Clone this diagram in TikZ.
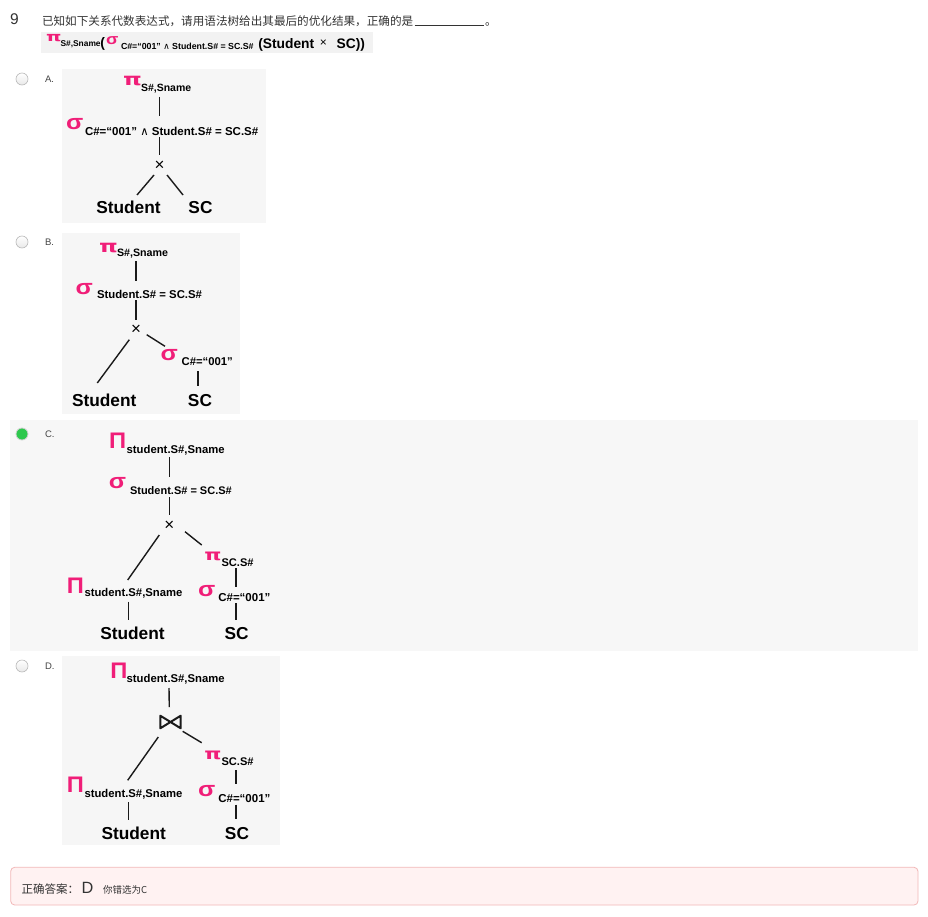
\documentclass[tikz,border=0pt]{standalone}
\usepackage{graphicx}
\usepackage{fontspec}
\setmainfont{Liberation Sans}
\newfontfamily\cjk{Noto Sans CJK SC}
\newfontfamily\dvs{DejaVu Sans}
\usetikzlibrary{calc}
\definecolor{pk}{HTML}{F01E78}
\definecolor{ibg}{HTML}{F6F6F6}
\definecolor{rowc}{HTML}{F7F7F7}
\definecolor{fbg}{HTML}{F2F2F2}
\definecolor{txt}{HTML}{333333}
\definecolor{lc}{HTML}{1A1A1A}
\definecolor{optc}{HTML}{444444}
\definecolor{bdr}{HTML}{F2B8B8}
\definecolor{pbg}{HTML}{FFF2F2}
\definecolor{grn}{HTML}{2DC84D}
\newcommand\myfs[1]{\fontsize{#1}{#1}\selectfont}
\newcommand\gp{\scalebox{1.4}[1]{\dvs\bfseries π}}
\newcommand\gs{\scalebox{1.2}[1]{σ}}
\newcommand\gP{\scalebox{1.05}[1]{Π}}
\tikzset{
 lbl/.style={inner sep=0, outer sep=0, anchor=base west},
 grk/.style={lbl, text=pk, font=\bfseries\myfs{15.5}},
 grs/.style={lbl, text=pk, font=\bfseries\myfs{21}},
 gPi/.style={lbl, text=pk, font=\bfseries\myfs{22.5}},
 sub/.style={lbl, text=black, font=\bfseries\myfs{#1}},
 leaf/.style={inner sep=0, outer sep=0, anchor=base, font=\bfseries\myfs{17.3}},
 conn/.style={line width=1.4pt, draw=lc},
 xmark/.style={inner sep=0, outer sep=0, font=\myfs{17}},
 radio/.style={circle, minimum size=12pt, inner sep=0, draw=gray!55, line width=0.6pt, top color=white, bottom color=gray!18},
 opt/.style={lbl, text=optc, font=\myfs{9.5}},
}
\begin{document}
\begin{tikzpicture}[x=1pt,y=-1pt]
\useasboundingbox (0,0) rectangle (928,917);
\fill[white] (0,0) rectangle (928,917);
% ---------- header ----------
\node[lbl, font=\myfs{15.5}, text=txt] (num) at (10,25) {9};
\node[lbl, font=\cjk\myfs{11.6}, text=txt] (q) at (42,25.5) {已知如下关系代数表达式，请用语法树给出其最后的优化结果，正确的是};
\draw[line width=0.7pt, txt] ($(q.base east)+(1.5,0)$) -- ($(q.base east)+(71,0)$);
\node[lbl, font=\cjk\myfs{11.6}, text=txt] (qdot) at (485,25.5) {。};
\fill[fbg] (41,32) rectangle (373,53);
\node[lbl, text=pk, font=\bfseries\myfs{13}] (fpi) at (46,42) {\scalebox{1.5}[1]{\dvs\bfseries π}};
\node[sub=8.4] (fsp) at (60.5,47) {S\#,Sname};
\node[lbl, font=\bfseries\myfs{13.8}] (fpar) at (100.3,48) {(};
\node[lbl, text=pk, font=\bfseries\myfs{15}] (fsg) at (106,44.2) {\gs};
\node[sub=8.8] (fss) at (121,50) {C\#=“001” {\dvs\mdseries ∧} Student.S\# = SC.S\#};
\node[lbl, font=\bfseries\myfs{13.8}] (fst) at (258.3,48.3) {(Student};
\node[inner sep=0, font=\myfs{12}] (fx) at (323.3,43.3) {×};
\node[lbl, font=\bfseries\myfs{13.8}] (fsc) at (336.7,48.3) {SC))};
% ---------- radios ----------
\node[radio] (rA) at (22,79) {};
\node[opt] (oA) at (45,82.5) {A.};
\node[radio] (rB) at (22,242) {};
\node[opt] (oB) at (45,245.5) {B.};
\fill[rowc] (10,420) rectangle (918,651);
\node[circle, minimum size=12pt, inner sep=0, draw=gray!35, line width=0.8pt, fill=grn] (rC) at (22,434) {};
\node[opt] (oC) at (45,437.5) {C.};
\node[radio] (rD) at (22,666) {};
\node[opt] (oD) at (45,669.5) {D.};
% ---------- option A ----------
\fill[ibg] (62,69) rectangle (266,223);
\node[grk, font=\bfseries\myfs{17}] (piA) at (123,86) {\gp};
\node[sub=10.5] (spA) at (141,91.3) {S\#,Sname};
\node[grs] (sgA) at (66,129.3) {\gs};
\node[sub=11.5] (ssA) at (85,136) {C\#=“001” {\dvs\mdseries ∧} Student.S\# = SC.S\#};
\node[xmark] (xA) at (159.5,166) {×};
\node[leaf] (stA) at (128.5,213.7) {Student};
\node[leaf] (scA) at (200.5,213.7) {SC};
\draw[conn] ($(spA.base -| xA)+(0,5.5)$) -- ($(sgA.base -| xA)+(0,-13.5)$);
\draw[conn] ($(ssA.base -| xA)+(0,1.5)$) -- ($(xA.center)+(0,-11)$);
\draw[conn] ($(xA.center)+(-5.5,9)$) -- ($(stA.base)+(8.5,-18.7)$);
\draw[conn] ($(xA.center)+(7.5,9)$) -- ($(scA.base)+(-17.5,-18.7)$);
% ---------- option B ----------
\fill[ibg] (62,233) rectangle (240,414);
\node[grk, font=\bfseries\myfs{17}] (piB) at (99,252.5) {\gp};
\node[sub=10.7] (spB) at (117,257) {S\#,Sname};
\node[grs] (sgB) at (75.7,294.3) {\gs};
\node[sub=11.35] (ssB) at (97,298.7) {Student.S\# = SC.S\#};
\node[xmark] (xB) at (136,329.7) {×};
\node[grs] (sgB2) at (160.7,360.5) {\gs};
\node[sub=11.3] (ssB2) at (181.7,365.3) {C\#=“001”};
\node[leaf] (stB) at (104.2,406.5) {Student};
\node[leaf] (scB) at (200,406.5) {SC};
\draw[conn] ($(spB.base -| xB)+(0,4.3)$) -- ($(sgB.base -| xB)+(0,-13.3)$);
\draw[conn] ($(ssB.base -| xB)+(0,1.3)$) -- ($(xB.center)+(0,-9.7)$);
\draw[conn] ($(xB.center)+(-6.7,10)$) -- ($(stB.base)+(-6.9,-23.5)$);
\draw[conn] ($(xB.center)+(10.7,5)$) -- ($(sgB2.base west)+(4.3,-14.2)$);
\draw[conn] ($(ssB2.base west)+(16.3,6)$) -- ($(scB.base)+(-2,-20.2)$);
% ---------- option C ----------
\node[gPi] (PiC) at (109,448.3) {\gP};
\node[sub=11.3] (spC) at (126.7,453.3) {student.S\#,Sname};
\node[grs] (sgC) at (108.8,488.8) {\gs};
\node[sub=11] (ssC) at (130,494.5) {Student.S\# = SC.S\#};
\node[xmark] (xC) at (169.3,526) {×};
\node[grk] (piC2) at (204.3,560) {\gp};
\node[sub=11.1] (spC2) at (221.5,566) {SC.S\#};
\node[gPi] (PiC3) at (66.8,593.3) {\gP};
\node[sub=11.3] (spC3) at (84.5,596.5) {student.S\#,Sname};
\node[grs] (sgC2) at (198,596.5) {\gs};
\node[sub=11.5] (ssC2) at (218.3,601.7) {C\#=“001”};
\node[leaf] (stC) at (132.5,639.3) {Student};
\node[leaf] (scC) at (236.7,639.3) {SC};
\draw[conn] ($(spC.base -| xC)+(0,4)$) -- ($(sgC.base -| xC)+(0,-11.5)$);
\draw[conn] ($(ssC.base -| xC)+(0,2.8)$) -- ($(xC.center)+(0,-11)$);
\draw[conn] ($(xC.center)+(-10,9)$) -- ($(spC3.base west)+(43.2,-16.5)$);
\draw[conn] ($(xC.center)+(15.7,5.7)$) -- ($(piC2.base west)+(-2.6,-15)$);
\draw[conn] ($(spC2.base west)+(14.5,2.3)$) -- ($(ssC2.base west)+(17.7,-15)$);
\draw[conn] ($(spC3.base west)+(43.8,5.2)$) -- ($(stC.base)+(-4.2,-19.3)$);
\draw[conn] ($(ssC2.base west)+(17.7,1.6)$) -- ($(scC.base)+(-0.7,-19.3)$);
% ---------- option D ----------
\fill[ibg] (62,656) rectangle (280,845);
\node[gPi] (PiD) at (110.3,678.7) {\gP};
\node[sub=11.3] (spD) at (126.7,682.5) {student.S\#,Sname};
\node[inner sep=0, outer sep=0, minimum width=20.4pt, minimum height=12.6pt] (bt) at (170.5,722) {};
\draw[line width=2pt, line join=round, lc] (bt.south west) -- (bt.north west) -- (bt.south east) -- (bt.north east) -- cycle;
\node[grk] (piD2) at (204.3,759) {\gp};
\node[sub=11.1] (spD2) at (221.5,765.5) {SC.S\#};
\node[gPi] (PiD3) at (66.8,792.7) {\gP};
\node[sub=11.3] (spD3) at (84.5,797.3) {student.S\#,Sname};
\node[grs] (sgD2) at (198,796.2) {\gs};
\node[sub=11.5] (ssD2) at (218.3,802) {C\#=“001”};
\node[leaf] (stD) at (133.7,839.3) {Student};
\node[leaf] (scD) at (237,839.3) {SC};
\draw[conn] ($(spD.base west)+(42.3,5.5)$) -- ($(bt.north)+(-1.2,-8.5)$);
\draw[conn] ($(bt.center)+(-12.2,15)$) -- ($(spD3.base west)+(43.2,-17)$);
\draw[conn] ($(bt.center)+(12.2,9.3)$) -- ($(piD2.base west)+(-2.6,-16.3)$);
\draw[conn] ($(spD2.base west)+(14.5,4.8)$) -- ($(ssD2.base west)+(17.7,-18.3)$);
\draw[conn] ($(spD3.base west)+(43.8,4.7)$) -- ($(stD.base)+(-5.4,-19)$);
\draw[conn] ($(ssD2.base west)+(17.7,2.7)$) -- ($(scD.base)+(-1,-20.6)$);
% ---------- answer box ----------
\draw[draw=bdr, fill=pbg, rounded corners=4pt, line width=0.8pt] (10.7,867.3) rectangle (918,905);
\node[lbl, font=\cjk\myfs{11.5}, text=txt] (ans) at (21.5,893.5) {正确答案：};
\node[lbl, font=\myfs{16.3}, text=txt] (ansD) at (81.5,893.3) {D};
\node[lbl, font=\cjk\myfs{9.5}, text=txt] (wr) at (103,893) {你错选为C};
\end{tikzpicture}
\end{document}
